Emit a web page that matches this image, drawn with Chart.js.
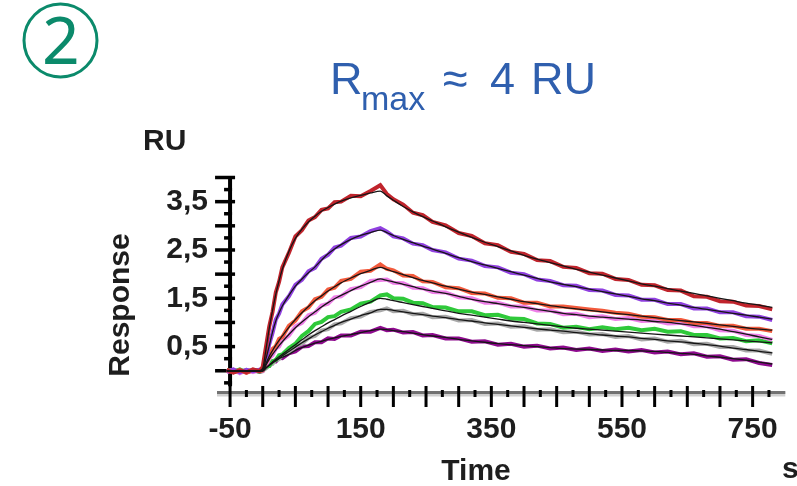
<!DOCTYPE html>
<html>
<head>
<meta charset="utf-8">
<script src="https://cdn.jsdelivr.net/npm/chart.js"></script>
<style>
html, body { margin: 0; padding: 0; background: #fff; }
#wrap { width: 797px; height: 486px; }
</style>
</head>
<body>
<div id="wrap"><canvas id="myChart" width="797" height="486"></canvas></div>
<script>
// sensorgram: time (s) vs response (RU), 7 concentrations, raw trace + fitted curve each
var times = [-55,-45,-35,-25,-15,-5,0,5,10,15,20,25,30,40,50,60,70,80,90,100,110,120,135,150,165,180,190,200,215,230,245,260,280,300,320,340,360,380,400,420,440,460,480,500,520,540,560,580,600,620,640,660,680,700,720,740,760,780];

var respA = [0.02,-0.04,0.01,-0.03,0.03,-0.01, 0.08,0.50,0.92,1.22,1.62,1.84,2.14, 2.44,2.78,2.91,3.11,3.18,3.33,3.36,3.49,3.50, 3.62,3.61,3.72,3.84, 3.66,3.55, 3.44,3.27,3.22,3.08, 3.01,2.85,2.79,2.64,2.60,2.46,2.42,2.29,2.27,2.15,2.13,2.02,2.01,1.90,1.88,1.78,1.77,1.67,1.66,1.54,1.53,1.44,1.43,1.35,1.34,1.27];
var respB = [-0.02,0.03,-0.03,0.02,-0.01,0.02, 0.03,0.22,0.55,0.78,1.06,1.18,1.37, 1.54,1.78,1.88,2.06,2.13,2.32,2.40,2.55,2.59, 2.75,2.78,2.89,2.95, 2.88,2.78, 2.74,2.63,2.60,2.50, 2.45,2.32,2.28,2.17,2.14,2.03,2.00,1.89,1.86,1.77,1.76,1.67,1.66,1.57,1.56,1.47,1.47,1.38,1.38,1.29,1.29,1.21,1.21,1.13,1.12,1.05];
var respC = [0.01,-0.03,0.02,-0.04,0.02,-0.01, 0.01,0.17,0.28,0.45,0.51,0.66,0.70, 0.93,1.04,1.23,1.31,1.48,1.53,1.68,1.72,1.86, 1.90,2.05,2.07,2.20, 2.11,2.08, 1.97,1.96,1.85,1.84, 1.73,1.71,1.61,1.60,1.51,1.50,1.41,1.41,1.33,1.33,1.30,1.27,1.24,1.20,1.18,1.12,1.11,1.05,1.05,0.99,0.99,0.93,0.93,0.87,0.87,0.82];
var respD = [-0.03,0.02,-0.05,0.01,-0.03,0.02, 0.00,0.10,0.26,0.32,0.46,0.50,0.63, 0.73,0.92,0.99,1.15,1.20,1.35,1.39,1.52,1.54, 1.69,1.73,1.86,1.88, 1.89,1.82, 1.81,1.72,1.71,1.63, 1.62,1.52,1.50,1.41,1.41,1.33,1.33,1.25,1.25,1.17,1.18,1.11,1.13,1.07,1.09,1.03,1.04,0.98,0.99,0.92,0.92,0.84,0.83,0.74,0.72,0.64];
var respE = [0.02,-0.02,0.03,-0.03,0.01,-0.02, 0.00,0.08,0.10,0.20,0.22,0.32,0.34, 0.47,0.56,0.72,0.82,0.97,1.01,1.11,1.13,1.22, 1.27,1.39,1.43,1.56, 1.58,1.50, 1.49,1.41,1.40,1.32, 1.31,1.23,1.23,1.15,1.16,1.08,1.07,0.98,0.97,0.89,0.91,0.86,0.90,0.86,0.89,0.84,0.87,0.81,0.82,0.74,0.74,0.67,0.68,0.61,0.63,0.57];
var respF = [-0.01,0.02,-0.03,0.02,-0.02,0.01, 0.01,0.05,0.13,0.14,0.23,0.24,0.33, 0.38,0.51,0.56,0.68,0.72,0.83,0.86,0.96,0.98, 1.09,1.12,1.22,1.25, 1.29,1.23, 1.24,1.17,1.18,1.11, 1.12,1.04,1.05,0.97,0.98,0.91,0.92,0.85,0.86,0.80,0.81,0.75,0.76,0.70,0.72,0.65,0.67,0.60,0.62,0.55,0.56,0.49,0.49,0.42,0.42,0.35];
var respG = [0.01,-0.03,0.02,-0.04,0.01,-0.02, -0.01,0.08,0.10,0.19,0.19,0.27,0.26, 0.36,0.40,0.50,0.51,0.59,0.59,0.67,0.66,0.73, 0.73,0.81,0.81,0.89, 0.84,0.85, 0.79,0.80,0.73,0.74, 0.67,0.67,0.60,0.61,0.54,0.56,0.50,0.52,0.46,0.48,0.43,0.46,0.41,0.44,0.40,0.43,0.38,0.40,0.34,0.36,0.29,0.30,0.23,0.24,0.16,0.12];

// fitted curves (black)
var fitA = [0,0,0,0,0,0, 0.05,0.45,0.88,1.25,1.58,1.86,2.10, 2.47,2.74,2.93,3.08,3.20,3.30,3.38,3.45,3.51, 3.58,3.63,3.68,3.72, 3.62,3.53, 3.40,3.29,3.19,3.10, 2.98,2.87,2.76,2.66,2.57,2.48,2.39,2.31,2.24,2.17,2.10,2.04,1.98,1.92,1.86,1.80,1.75,1.70,1.65,1.60,1.55,1.50,1.45,1.40,1.36,1.31];
var fitB = [0,0,0,0,0,0, 0.02,0.25,0.52,0.80,1.03,1.20,1.34, 1.56,1.75,1.90,2.03,2.15,2.29,2.42,2.52,2.61, 2.72,2.80,2.86,2.91, 2.86,2.80, 2.72,2.65,2.58,2.52, 2.43,2.34,2.26,2.19,2.12,2.05,1.98,1.91,1.84,1.79,1.74,1.69,1.64,1.59,1.54,1.49,1.45,1.40,1.36,1.31,1.27,1.23,1.19,1.15,1.11,1.07];
var fitC = [0,0,0,0,0,0, 0,0.15,0.30,0.42,0.53,0.63,0.72, 0.90,1.06,1.20,1.33,1.45,1.55,1.65,1.74,1.82, 1.92,2.01,2.08,2.14, 2.10,2.05, 1.99,1.93,1.87,1.82, 1.75,1.69,1.63,1.58,1.53,1.48,1.43,1.39,1.35,1.31,1.28,1.25,1.22,1.19,1.16,1.13,1.10,1.07,1.04,1.01,0.98,0.95,0.92,0.89,0.86,0.84];
var fitD = [0,0,0,0,0,0, 0,0.12,0.24,0.34,0.43,0.52,0.60, 0.75,0.89,1.01,1.12,1.22,1.32,1.41,1.49,1.56, 1.66,1.75,1.83,1.90, 1.87,1.84, 1.79,1.74,1.69,1.65, 1.60,1.54,1.48,1.43,1.39,1.35,1.31,1.27,1.23,1.19,1.16,1.13,1.11,1.09,1.07,1.05,1.02,1.00,0.97,0.94,0.90,0.86,0.81,0.76,0.70,0.65];
var fitE = [0,0,0,0,0,0, 0,0.06,0.12,0.18,0.24,0.29,0.34, 0.44,0.54,0.64,0.74,0.83,0.91,0.99,1.06,1.13, 1.23,1.33,1.42,1.50, 1.48,1.45, 1.41,1.37,1.33,1.29, 1.24,1.19,1.15,1.11,1.07,1.03,1.00,0.97,0.94,0.91,0.88,0.86,0.84,0.82,0.80,0.78,0.76,0.74,0.72,0.70,0.68,0.66,0.64,0.62,0.60,0.58];
var fitF = [0,0,0,0,0,0, 0,0.06,0.11,0.16,0.21,0.26,0.31, 0.40,0.49,0.58,0.66,0.74,0.81,0.88,0.94,1.00, 1.07,1.14,1.20,1.27, 1.27,1.25, 1.22,1.19,1.16,1.13, 1.10,1.06,1.03,0.99,0.96,0.93,0.90,0.87,0.84,0.82,0.79,0.77,0.74,0.72,0.70,0.67,0.65,0.62,0.60,0.57,0.54,0.51,0.47,0.44,0.40,0.37];
var fitG = [0,0,0,0,0,0, 0,0.06,0.12,0.17,0.21,0.25,0.28, 0.34,0.42,0.48,0.53,0.57,0.61,0.65,0.68,0.71, 0.75,0.79,0.83,0.86, 0.85,0.83, 0.81,0.78,0.75,0.72, 0.69,0.65,0.62,0.59,0.56,0.54,0.52,0.50,0.48,0.46,0.45,0.44,0.43,0.42,0.42,0.41,0.40,0.38,0.36,0.34,0.31,0.28,0.25,0.22,0.18,0.14];

var traceColors = ['#c0242c', '#9040e0', '#f25a3c', '#ee7fe8', '#2fc93a', '#a9a9a9', '#8e0a8e'];

var xTicks = [-50, 150, 350, 550, 750];
var yTicks = [0.5, 1.5, 2.5, 3.5];

var labelFont = { family: 'Liberation Sans', size: 30, weight: 'bold' };
var textColor = '#1e1e1e';

function pts(vals) {
	return vals.map(function (v, i) { return { x: times[i], y: v }; });
}

var traces = [respA, respB, respC, respD, respE, respF, respG];
var fits = [fitA, fitB, fitC, fitD, fitE, fitF, fitG];
var datasets = [];
traces.forEach(function (r, i) {
	datasets.push({ data: pts(r), borderColor: traceColors[i], borderWidth: 4, pointRadius: 0, tension: 0, order: 1 });
});
// fits go on top of the raw traces
fits.forEach(function (f) {
	datasets.push({ data: pts(f), borderColor: '#151515', borderWidth: 1.3, pointRadius: 0, tension: 0.3, cubicInterpolationMode: 'monotone', order: 0 });
});

// axis lines and tick marks, drawn under the traces
var axesPlugin = {
	id: 'axes',
	beforeDatasetsDraw: function (chart) {
		var ctx = chart.ctx, xs = chart.scales.x, ys = chart.scales.y;
		var ax = xs.getPixelForValue(-50);
		var ay = chart.chartArea.bottom;
		ctx.save();
		// y axis
		ctx.strokeStyle = '#000';
		ctx.lineWidth = 4;
		ctx.beginPath();
		ctx.moveTo(ax, ys.getPixelForValue(4) - 1);
		ctx.lineTo(ax, ys.getPixelForValue(-0.32));
		ctx.stroke();
		ctx.lineWidth = 3.5;
		for (var v = 4; v > -0.3; v -= 0.25) {
			var py = ys.getPixelForValue(v);
			var major = Math.abs(v * 2 - Math.round(v * 2)) < 1e-6;
			ctx.beginPath();
			ctx.moveTo(major ? ax - 15 : ax - 6, py);
			ctx.lineTo(major ? ax + 5 : ax + 2, py);
			ctx.stroke();
		}
		// x axis
		ctx.strokeStyle = '#cfcfcf';
		ctx.lineWidth = 5;
		ctx.beginPath();
		ctx.moveTo(chart.chartArea.left, ay + 1);
		ctx.lineTo(chart.chartArea.right, ay + 1);
		ctx.stroke();
		ctx.strokeStyle = '#727272';
		ctx.lineWidth = 3;
		ctx.beginPath();
		ctx.moveTo(chart.chartArea.left, ay - 0.5);
		ctx.lineTo(chart.chartArea.right, ay - 0.5);
		ctx.stroke();
		ctx.strokeStyle = '#000';
		ctx.lineWidth = 3;
		for (var t = -50; t <= 775; t += 25) {
			var px = xs.getPixelForValue(t);
			var big = (t % 50 === 0);
			ctx.beginPath();
			ctx.moveTo(px, big ? ay - 7 : ay - 3);
			ctx.lineTo(px, big ? ay + 14 : ay + 4);
			ctx.stroke();
		}
		ctx.restore();
	}
};

// step badge, title and axis captions
var captionPlugin = {
	id: 'captions',
	afterDraw: function (chart) {
		var ctx = chart.ctx;
		ctx.save();
		ctx.strokeStyle = '#0b8a6b';
		ctx.lineWidth = 3;
		ctx.beginPath();
		ctx.arc(60.5, 40.5, 36.5, 0, Math.PI * 2);
		ctx.stroke();
		ctx.fillStyle = '#0b8a6b';
		ctx.font = '66px "Noto Sans"';
		ctx.textAlign = 'center';
		ctx.textBaseline = 'alphabetic';
		ctx.fillText('2', 61, 64);

		ctx.fillStyle = '#2f5fae';
		ctx.textAlign = 'left';
		ctx.font = '45px "Liberation Sans"';
		ctx.fillText('R', 330, 94);
		ctx.font = '34px "Liberation Sans"';
		ctx.fillText('max', 361, 110);
		ctx.font = '45px "Liberation Sans"';
		ctx.fillText('\u2248', 443, 94);
		ctx.fillText('4', 490, 94);
		ctx.fillText('RU', 531, 94);

		ctx.fillStyle = textColor;
		ctx.font = 'bold 30px "Liberation Sans"';
		ctx.fillText('RU', 143, 150);
		ctx.fillText('s', 782, 478);
		ctx.textAlign = 'center';
		ctx.fillText('Time', 476, 480);
		ctx.translate(121, 305);
		ctx.rotate(-Math.PI / 2);
		ctx.textBaseline = 'middle';
		ctx.fillText('Response', 0, 0);
		ctx.restore();
	}
};

var ctx = document.getElementById('myChart');
var myChart = new Chart(ctx, {
	type: 'line',
	data: { datasets: datasets },
	options: {
		responsive: false,
		animation: false,
		devicePixelRatio: 1,
		layout: { padding: { top: 177.5, right: 6, bottom: 0, left: 0 } },
		plugins: { legend: { display: false }, tooltip: { enabled: false } },
		scales: {
			x: {
				type: 'linear', min: -70, max: 800,
				grid: { display: false, drawTicks: false },
				border: { display: false },
				afterBuildTicks: function (s) { s.ticks = xTicks.map(function (v) { return { value: v }; }); },
				afterFit: function (s) { s.height = 93; },
				ticks: { font: labelFont, color: textColor, padding: 19, maxRotation: 0, autoSkip: false,
					callback: function (v) { return String(v); } }
			},
			y: {
				type: 'linear', min: -0.46, max: 4,
				grid: { display: false, drawTicks: false },
				border: { display: false },
				afterBuildTicks: function (s) { s.ticks = yTicks.map(function (v) { return { value: v }; }); },
				afterFit: function (s) { s.width = 217; },
				ticks: { font: labelFont, color: textColor, padding: 9, autoSkip: false,
					callback: function (v) { return v.toFixed(1).replace('.', ','); } }
			}
		}
	},
	plugins: [axesPlugin, captionPlugin]
});
</script>
</body>
</html>
